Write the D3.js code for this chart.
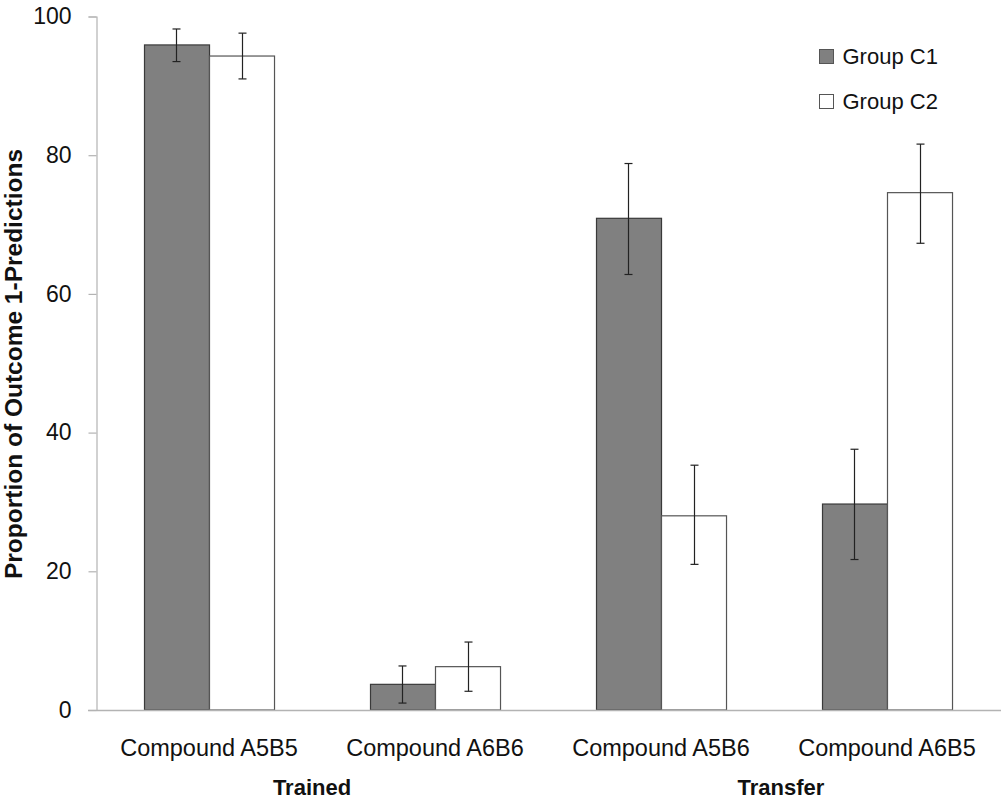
<!DOCTYPE html>
<html><head><meta charset="utf-8">
<script src="https://cdn.jsdelivr.net/npm/d3@7"></script>
<style>body{margin:0;background:#fff}svg{display:block}text{font-family:"Liberation Sans",Arial,sans-serif}</style>
</head><body><svg id="c" width="1001" height="802"></svg>
<script>
const categories = ["Compound A5B5","Compound A6B6","Compound A5B6","Compound A6B5"];
const groupLabels = ["Trained","Transfer"];
const series = ["Group C1","Group C2"];
const c1Values = [95.9, 3.7, 70.9, 29.7];
const c1Low = [93.5, 1.0, 62.8, 21.7];
const c1High = [98.2, 6.35, 78.8, 37.6];
const c2Values = [94.3, 6.25, 28.0, 74.6];
const c2Low = [91.0, 2.7, 21.0, 67.3];
const c2High = [97.6, 9.8, 35.3, 81.6];
const yTicks = [0,20,40,60,80,100];
const colors = ["#808080","#ffffff"];

const svg = d3.select("#c");
const x0 = d3.scaleBand().domain(categories).range([96,1000]).paddingInner(0).paddingOuter(0);
const x1 = d3.scaleBand().domain(series).range([0,x0.bandwidth()]).paddingInner(0).paddingOuter(0.738);
const y = d3.scaleLinear().domain([0,100]).range([710,16.5]);

// y axis
const yAxis = svg.append("g").attr("transform","translate(96.5,0)")
  .call(d3.axisLeft(y).tickValues(yTicks).tickSize(8).tickPadding(17));
yAxis.select(".domain").attr("stroke","#b3b3b3").attr("stroke-width",1.2);
yAxis.selectAll(".tick line").attr("stroke","#b3b3b3").attr("stroke-width",1.2);
yAxis.selectAll(".tick text").attr("font-size",23).attr("fill","#111");

const data = categories.map((c,i)=>({c, vals:[
  {s:series[0], v:c1Values[i], lo:c1Low[i], hi:c1High[i]},
  {s:series[1], v:c2Values[i], lo:c2Low[i], hi:c2High[i]}]}));

const g = svg.append("g").selectAll("g").data(data).join("g")
  .attr("transform",d=>`translate(${x0(d.c)},0)`);
g.selectAll("rect").data(d=>d.vals).join("rect")
  .attr("x",d=>Math.round(x1(d.s))+0.5).attr("width",x1.bandwidth())
  .attr("y",d=>y(d.v)).attr("height",d=>y(0)-y(d.v))
  .attr("fill",(d,i)=>colors[i]).attr("stroke",(d,i)=>i===0?"#3a3a3a":"#555").attr("stroke-width",1.2);

// x baseline
svg.append("line").attr("x1",88).attr("x2",1001).attr("y1",y(0)+0.5).attr("y2",y(0)+0.5)
  .attr("stroke","#b3b3b3").attr("stroke-width",1.5);

// error bars
const eb = g.selectAll("g.err").data(d=>d.vals).join("g").attr("class","err")
  .attr("transform",d=>`translate(${Math.round(x1(d.s)+x1.bandwidth()/2)+0.5},0)`);
eb.append("line").attr("y1",d=>y(d.lo)).attr("y2",d=>y(d.hi)).attr("stroke","#222").attr("stroke-width",1.2);
eb.append("line").attr("x1",-4).attr("x2",4).attr("y1",d=>y(d.lo)).attr("y2",d=>y(d.lo)).attr("stroke","#222").attr("stroke-width",1.2);
eb.append("line").attr("x1",-4).attr("x2",4).attr("y1",d=>y(d.hi)).attr("y2",d=>y(d.hi)).attr("stroke","#222").attr("stroke-width",1.2);

// category labels
svg.append("g").selectAll("text").data(categories).join("text")
  .attr("x",d=>x0(d)+x0.bandwidth()/2).attr("y",756).attr("text-anchor","middle")
  .attr("font-size",23.5).attr("fill","#111").text(d=>d);

// group labels
const gx = [ (x0(categories[0])+x0(categories[1])+x0.bandwidth())/2 - 10,
             (x0(categories[2])+x0(categories[3])+x0.bandwidth())/2 + 7 ];
svg.append("g").selectAll("text").data(groupLabels).join("text")
  .attr("x",(d,i)=>gx[i]).attr("y",795).attr("text-anchor","middle")
  .attr("font-size",22).attr("font-weight","bold").attr("fill","#111").text(d=>d);

// y title
svg.append("text").attr("transform","translate(22,364) rotate(-90)").attr("text-anchor","middle")
  .attr("font-size",24.5).attr("font-weight","bold").attr("fill","#111")
  .text("Proportion of Outcome 1-Predictions");

// legend
const lg = svg.append("g").selectAll("g").data(series).join("g")
  .attr("transform",(d,i)=>`translate(819.5,${49.5+i*45})`);
lg.append("rect").attr("width",14).attr("height",14).attr("fill",(d,i)=>colors[i]).attr("stroke","#555");
lg.append("text").attr("x",23).attr("y",14).attr("font-size",22).attr("fill","#111").text(d=>d);
</script></body></html>
